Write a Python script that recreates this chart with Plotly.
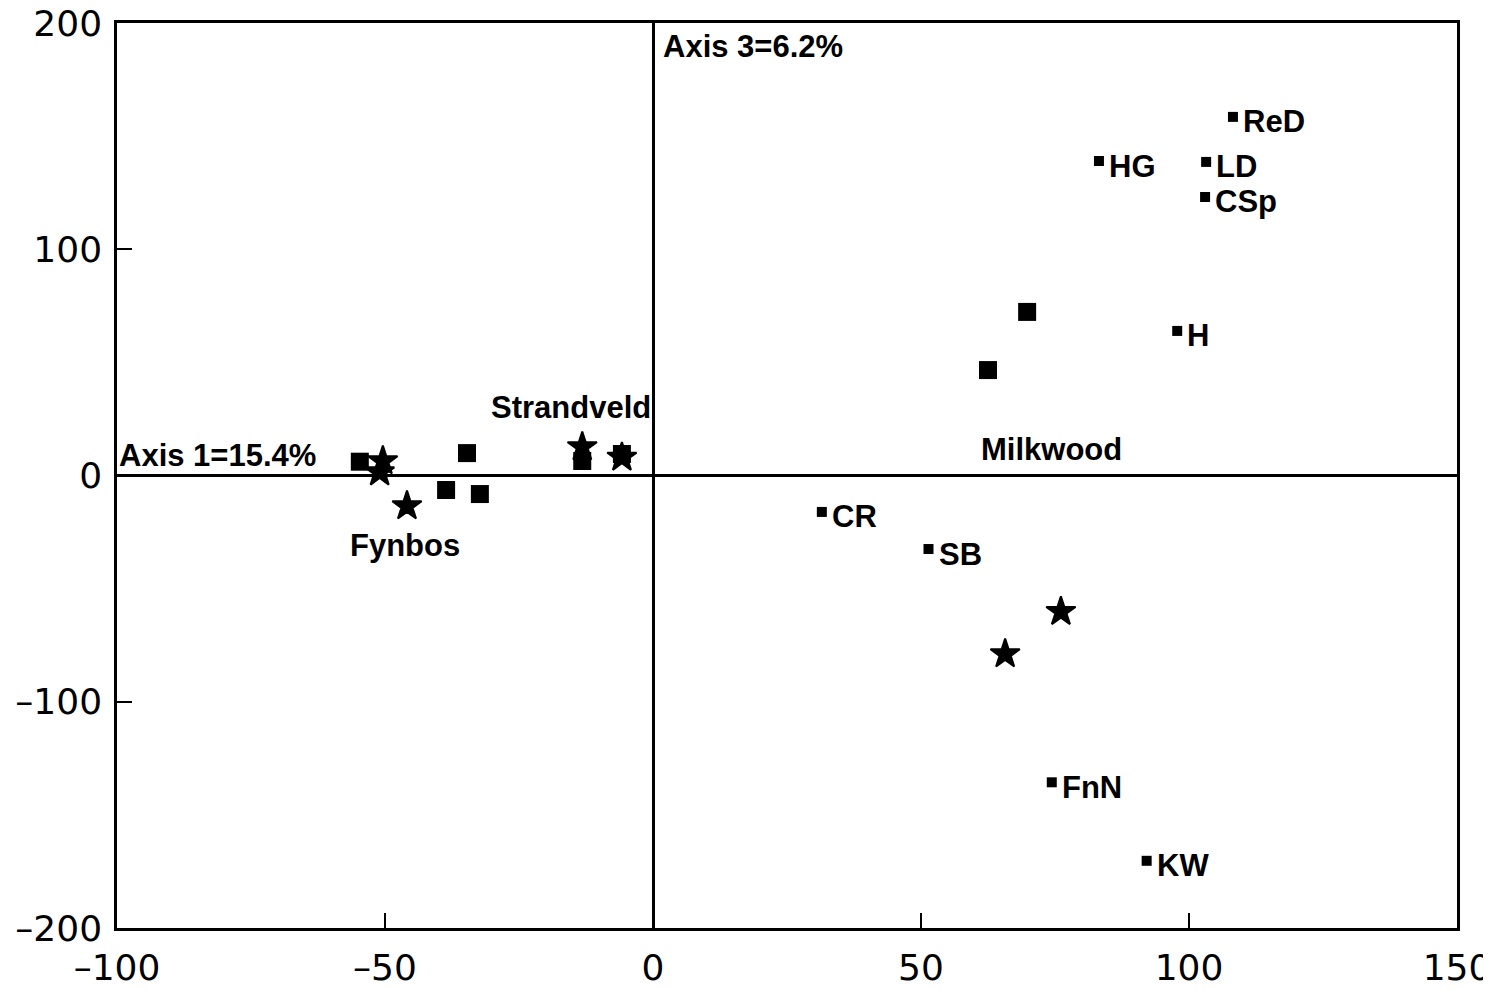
import plotly.graph_objects as go

# Site samples (large squares)
sq_x = [-54.7, -34.7, -38.6, -32.3, -13.2, -5.8, 69.8, 62.5]
sq_y = [6.1, 9.9, -6.4, -8.2, 6.4, 9.5, 72.3, 46.6]

# Site samples (stars)
st_x = [-50.4, -51.0, -45.9, -13.2, -5.8, 76.1, 65.7]
st_y = [6.4, 1.5, -13.5, 12.6, 8.0, -60.2, -78.9]

# Labelled points (small squares)
lab_names = ["ReD", "HG", "LD", "CSp", "H", "CR", "SB", "FnN", "KW"]
lab_x = [108.2, 83.2, 103.2, 103.0, 97.8, 31.5, 51.4, 74.4, 92.1]
lab_y = [158.5, 139.0, 138.6, 123.1, 63.9, -16.1, -32.5, -135.6, -170.3]

# Group / axis texts
grp_text = ["Strandveld", "Fynbos", "Milkwood"]
grp_x = [0, -46.3, 74.3]
grp_y = [30, -31, 11.5]

axis_text = ["Axis 1=15.4%", "Axis 3=6.2%"]
axis_x = [-100, 1.5]
axis_y = [9.0, 189.6]

xticks = [-100, -50, 0, 50, 100, 150]
yticks = [-200, -100, 0, 100, 200]

LFONT = "Liberation Sans, Arial, Helvetica, sans-serif"
TFONT = "DejaVu Sans, sans-serif"


def fmt(v):
    return ("\u2013" + str(-v)) if v < 0 else str(v)


fig = go.Figure()
fig.add_trace(go.Scatter(
    x=sq_x, y=sq_y, mode="markers",
    marker=dict(symbol="square", size=18, color="black"),
    showlegend=False, hoverinfo="skip"))
fig.add_trace(go.Scatter(
    x=st_x, y=st_y, mode="markers",
    marker=dict(symbol="star", size=22, color="black",
                line=dict(color="black", width=2)),
    showlegend=False, hoverinfo="skip"))
fig.add_trace(go.Scatter(
    x=lab_x, y=lab_y, mode="markers",
    marker=dict(symbol="square", size=10, color="black"),
    showlegend=False, hoverinfo="skip"))

anns = []
for n, x, y in zip(lab_names, lab_x, lab_y):
    anns.append(dict(x=x, y=y, text="<b>" + n + "</b>", xanchor="left",
                     yanchor="middle", showarrow=False, xshift=8, yshift=-5))
anns.append(dict(x=grp_x[0], y=grp_y[0], text="<b>" + grp_text[0] + "</b>",
                 xanchor="right", yanchor="middle", showarrow=False))
anns.append(dict(x=grp_x[1], y=grp_y[1], text="<b>" + grp_text[1] + "</b>",
                 xanchor="center", yanchor="middle", showarrow=False))
anns.append(dict(x=grp_x[2], y=grp_y[2], text="<b>" + grp_text[2] + "</b>",
                 xanchor="center", yanchor="middle", showarrow=False))
for t, x, y in zip(axis_text, axis_x, axis_y):
    anns.append(dict(x=x, y=y, text="<b>" + t + "</b>", xanchor="left",
                     yanchor="middle", showarrow=False))
for a in anns:
    a["font"] = dict(family=LFONT, size=31, color="black")
fig.update_layout(annotations=anns)

axis_common = dict(
    showgrid=False, zeroline=True, zerolinecolor="black", zerolinewidth=2.5,
    showline=True, mirror=True, linecolor="black", linewidth=2.5,
    ticks="inside", ticklen=15, tickwidth=2, tickcolor="black",
    tickfont=dict(size=36, family=TFONT, color="black"), automargin=False,
    ticklabeloverflow="allow",
)

# page body has an 8px default margin, so size/margins compensate for it
fig.update_layout(
    width=1483, height=982,
    margin=dict(l=109, r=34, t=15, b=62),
    paper_bgcolor="white", plot_bgcolor="white",
    font=dict(family=LFONT, color="black"),
    xaxis=dict(range=[-100, 150], tickvals=xticks, ticktext=[fmt(v) for v in xticks],
               ticklabelstandoff=6, **axis_common),
    yaxis=dict(range=[-200, 200], tickvals=yticks, ticktext=[fmt(v) for v in yticks],
               ticklabelstandoff=5, **axis_common),
)

fig.write_html("out.html")
